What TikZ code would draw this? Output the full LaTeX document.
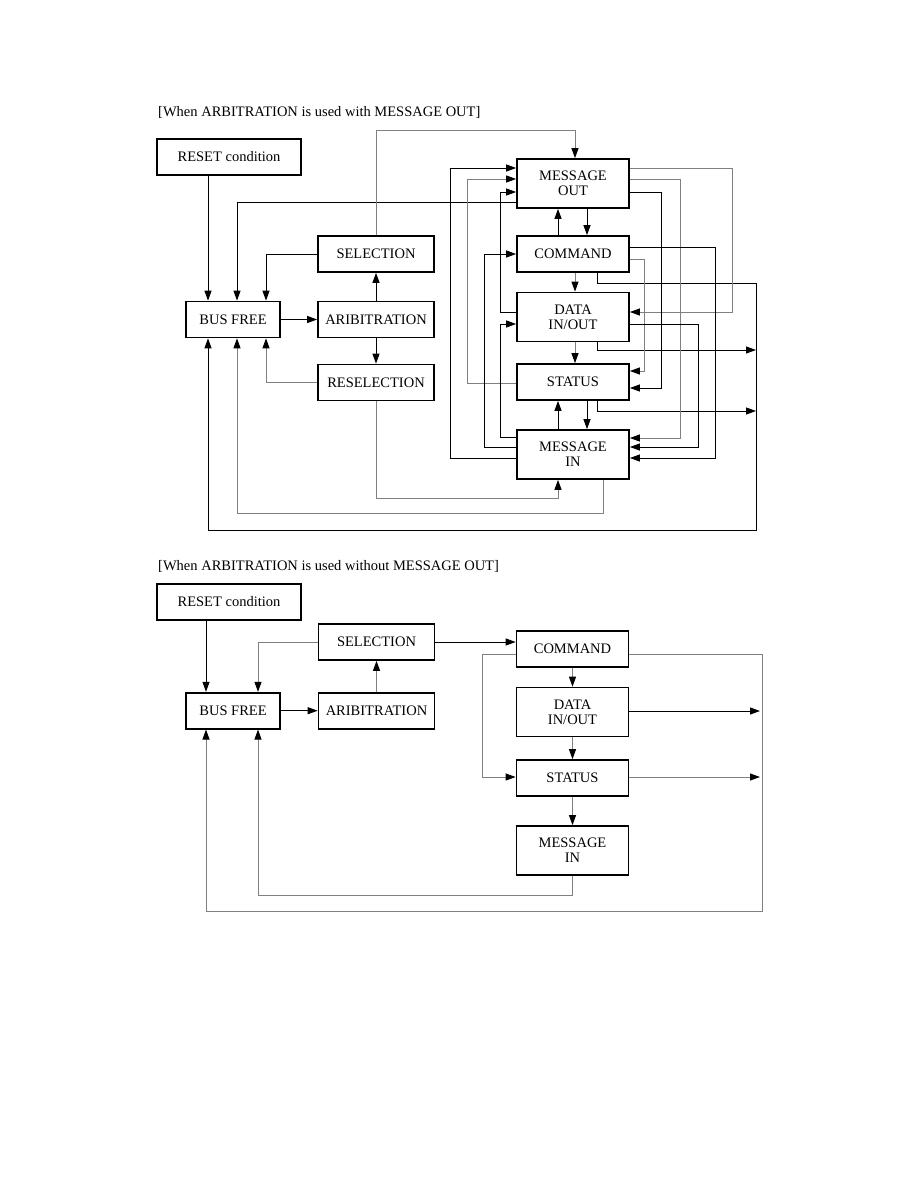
\documentclass[tikz,border=0pt]{standalone}
\usepackage{fontspec}
\setmainfont{Liberation Serif}
\usetikzlibrary{arrows.meta}
\tikzset{
  box/.style={rectangle,draw,line width=1.7pt,align=center,inner sep=0pt,minimum height=36pt,minimum width=112pt,font=\fontsize{14.5}{15}\selectfont},
  tall/.style={minimum height=49pt},
  line/.style={-{Triangle[length=10pt,width=7pt]},line width=1pt},
  gline/.style={line,draw=black!50,-{Triangle[length=10pt,width=7pt,color=black]}},
  title/.style={anchor=west,inner sep=0pt,font=\fontsize{14.5}{15}\selectfont}
}

\begin{document}
\begin{tikzpicture}[x=1pt,y=-1pt]
\useasboundingbox (0,0) rectangle (918,1188);
% with MESSAGE OUT
\node[title] (t1) at (158,112) {[When ARBITRATION is used with MESSAGE OUT]};
\node[box,minimum width=144pt] (reset) at (229,157) {RESET condition};
\node[box,minimum width=94pt] (busfree) at (233,319.5) {BUS FREE};
\node[box,minimum width=116pt] (sel) at (376,254) {SELECTION};
\node[box,minimum width=116pt] (arb) at (376,319.5) {ARIBITRATION};
\node[box,minimum width=116pt] (resel) at (376,382.5) {RESELECTION};
\node[box,tall] (mo) at (573,183.5) {MESSAGE\\OUT};
\node[box] (cmd) at (573,254) {COMMAND};
\node[box,tall] (data) at (573,317) {DATA\\IN/OUT};
\node[box] (stat) at (573,382) {STATUS};
\node[box,tall] (mi) at (573,454.5) {MESSAGE\\IN};
\draw[line] (reset.south -| 208,0) -- (busfree.north -| 208,0);
\draw[line] (sel.west) -| (busfree.north -| 266,0);
\draw[line] (mo.west |- 0,202) -| (busfree.north -| 237,0);
\draw[line] (busfree) -- (arb);
\draw[line] (arb) -- (sel);
\draw[line] (arb) -- (resel);
\draw[gline] (resel.west) -| (busfree.south -| 266,0);
\draw[gline] (resel.south) |- (558,498) -- (mi.south -| 558,0);
\draw[gline] (mi.south -| 603,0) |- (237,513) -- (busfree.south -| 237,0);
\draw[line] (cmd.south -| 597,0) |- (756,283) |- (208,530) -- (busfree.south -| 208,0);
\draw[line] (data.south -| 597,0) |- (756,350);
\draw[line] (stat.south -| 597,0) |- (756,411);
\draw[gline] (sel.north) |- (575,131) -- (mo.north -| 575,0);
\draw[line] (mo.south -| 587,0) -- (cmd.north -| 587,0);
\draw[line] (cmd.north -| 558,0) -- (mo.south -| 558,0);
\draw[gline] (cmd.south -| 575,0) -- (data.north -| 575,0);
\draw[gline] (data.south -| 575,0) -- (stat.north -| 575,0);
\draw[line] (stat.south -| 587,0) -- (mi.north -| 587,0);
\draw[line] (mi.north -| 558,0) -- (stat.south -| 558,0);
% left lanes
\draw[gline] (stat.west |- 0,383) -| (467,179) -- (mo.west |- 0,179);
\draw[line] (data.west |- 0,312) -| (500,192) -- (mo.west |- 0,192);
\draw[line] (mi.west |- 0,437) -| (500,324) -- (data.west |- 0,324);
\draw[line] (mi.west |- 0,447) -| (484,254) -- (cmd.west);
\draw[line] (mi.west |- 0,458) -| (450,168) -- (mo.west |- 0,168);
% right lanes
\draw[gline] (mo.east |- 0,168) -| (732,312) -- (data.east |- 0,312);
\draw[gline] (mo.east |- 0,179) -| (680,438) -- (mi.east |- 0,438);
\draw[line] (mo.east |- 0,192) -| (661,388) -- (stat.east |- 0,388);
\draw[line] (cmd.east |- 0,247) -| (715,458) -- (mi.east |- 0,458);
\draw[gline] (cmd.east |- 0,259) -| (644,371) -- (stat.east |- 0,371);
\draw[line] (data.east |- 0,324) -| (698,447) -- (mi.east |- 0,447);

% without MESSAGE OUT
\node[title] (t2) at (158,566) {[When ARBITRATION is used without MESSAGE OUT]};
\node[box,minimum width=144pt] (reset2) at (229,602) {RESET condition};
\node[box,minimum width=94pt] (busfree2) at (233,710.7) {BUS FREE};
\node[box,minimum width=116pt] (sel2) at (376.5,642) {SELECTION};
\node[box,minimum width=116pt] (arb2) at (376.5,710.7) {ARIBITRATION};
\node[box] (cmd2) at (572.5,649) {COMMAND};
\node[box,tall] (data2) at (572.5,712) {DATA\\IN/OUT};
\node[box] (stat2) at (572.5,778) {STATUS};
\node[box,tall] (mi2) at (572.5,850.5) {MESSAGE\\IN};
\draw[line] (reset2.south -| 206,0) -- (busfree2.north -| 206,0);
\draw[gline] (sel2.west) -| (busfree2.north -| 258,0);
\draw[line] (busfree2) -- (arb2);
\draw[gline] (arb2) -- (sel2);
\draw[line] (sel2.east) -- (cmd2.west |- sel2.east);
\draw[gline] (cmd2) -- (data2);
\draw[gline] (data2) -- (stat2);
\draw[gline] (stat2) -- (mi2);
\draw[gline] (cmd2.west |- 0,654) -| (482,777) -- (stat2.west |- 0,777);
\draw[gline] (cmd2.east |- 0,654) -| (762,911) -| (busfree2.south -| 206,0);
\draw[line] (data2.east |- 0,711) -- (760,711);
\draw[gline] (stat2.east |- 0,777) -- (760,777);
\draw[gline] (mi2.south) |- (258,895) -- (busfree2.south -| 258,0);
\end{tikzpicture}
\end{document}
